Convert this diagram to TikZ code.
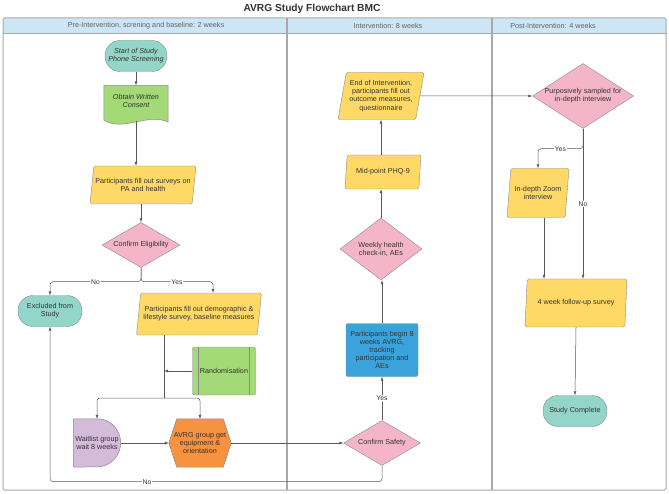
\documentclass[tikz,border=0pt]{standalone}
\usepackage{fontspec}
\setmainfont{Liberation Sans}
\usetikzlibrary{shapes.geometric, arrows.meta, positioning, calc, backgrounds}
\definecolor{flowteal}{HTML}{93D5C9}
\definecolor{flowgreen}{HTML}{A3D977}
\definecolor{flowyellow}{HTML}{FFD966}
\definecolor{flowpink}{HTML}{F4B5C9}
\definecolor{flowpurple}{HTML}{D4BBD9}
\definecolor{floworange}{HTML}{F79240}
\definecolor{flowblue}{HTML}{3AA3DC}
\definecolor{lanehead}{HTML}{CCE6F6}
\definecolor{laneline}{HTML}{A8A8A8}
\definecolor{edgegrey}{HTML}{8A8A8A}
\definecolor{textgrey}{HTML}{333333}
\newcommand{\nodefont}{\fontsize{7.2}{8.2}\selectfont}
\tikzset{
    terminal/.style={rectangle, rounded corners=15pt, minimum width=64pt, minimum height=31pt, text centered, align=center, draw=edgegrey, fill=flowteal, font=\nodefont, text=textgrey},
    datain/.style={trapezium, trapezium left angle=76, trapezium right angle=104, trapezium stretches body, rounded corners=1.5pt, inner xsep=0pt, inner ysep=1pt, align=center, draw=edgegrey, fill=flowyellow, font=\nodefont, text=textgrey},
    decision/.style={diamond, aspect=1.55, inner sep=-3pt, align=center, draw=edgegrey, fill=flowpink, font=\nodefont, text=textgrey},
    process/.style={rectangle, rounded corners=2pt, align=center, draw=edgegrey, font=\nodefont, text=textgrey},
    predef/.style={process, fill=flowgreen, path picture={
        \draw[edgegrey] ([xshift=6pt]path picture bounding box.north west) -- ([xshift=6pt]path picture bounding box.south west);
        \draw[edgegrey] ([xshift=-6pt]path picture bounding box.north east) -- ([xshift=-6pt]path picture bounding box.south east);}},
    textonly/.style={align=center, font=\nodefont, text=textgrey},
    lanetitle/.style={font=\fontsize{7.2}{8}\selectfont, text=black!62},
    shapeline/.style={draw=edgegrey, line width=0.5pt},
    arrow/.style={draw=black!65, line width=0.5pt, rounded corners=3pt, -{Latex[length=4pt,width=3pt]}},
    flowlabel/.style={fill=white, inner sep=0.8pt, font=\fontsize{6.8}{7}\selectfont, text=textgrey}
}

\begin{document}
\begin{tikzpicture}[x=1pt, y=1pt]
        \useasboundingbox (0,0) rectangle (669,-494);
        % Title
        \node (title) at (312,-8.5) [font=\fontsize{10.2}{12}\selectfont\bfseries, text=textgrey] {AVRG Study Flowchart BMC};

        % Swimlanes
        \fill[lanehead] (3,-18) rectangle (666,-33);
        \draw[laneline, line width=1pt, rounded corners=1.5pt] (3,-18) rectangle (666,-490);
        \draw[laneline, line width=0.8pt] (3,-33) -- (666,-33);
        \draw[laneline, line width=1.6pt] (287,-18) -- (287,-490);
        \draw[laneline, line width=1.6pt] (492,-18) -- (492,-490);
        \node (lane1) [lanetitle] at (146,-25.5) {Pre-Intervention, screning and baseline: 2 weeks};
        \node (lane2) [lanetitle] at (388,-25.5) {Intervention: 8 weeks};
        \node (lane3) [lanetitle] at (553,-25.5) {Post-Intervention: 4 weeks};

        % Pre-intervention
        \node (start) [terminal, minimum width=60pt, font=\nodefont\itshape] at (136,-56) {Start of Study\\Phone Screening};
        \node (consent) [textonly, minimum width=64pt, minimum height=31pt, font=\nodefont\itshape] at (136,-101) {Obtain Written\\Consent};
        \node (surveys) [datain, minimum width=106pt, minimum height=38pt] at (143,-185) {Participants fill out surveys on\\PA and health};
        \node (elig) [decision, minimum width=78pt, minimum height=45pt] at (141,-245) {Confirm Eligibility};
        \node (excluded) [terminal] at (50,-311) {Excluded from\\Study};
        \node (demog) [datain, minimum width=125pt, minimum height=42pt] at (199,-314) {Participants fill out demographic \&\\lifestyle survey, baseline measures};
        \node (random) [predef, minimum width=63pt, minimum height=48pt] at (224,-371) {Randomisation};
        \node (waitlist) [textonly, minimum width=47pt, minimum height=48pt, inner sep=0pt] at (97,-443) {Waitlist group\\wait 8 weeks};
        \node (avrg) [textonly, minimum width=62pt, minimum height=48pt, inner sep=0pt] at (200,-443) {AVRG group get\\equipment \&\\orientation};
        \coordinate (split) at (164,-398);

        % Intervention
        \node (safety) [decision, minimum width=77pt, minimum height=45pt] at (382,-443) {Confirm Safety};
        \node (begin) [process, fill=flowblue, minimum width=72pt, minimum height=53pt, inner sep=1pt] at (382,-350) {Participants begin 8\\weeks AVRG,\\tracking\\participation and\\AEs};
        \node (weekly) [decision, minimum width=82pt, minimum height=62pt] at (381,-249) {Weekly health\\check-in, AEs};
        \node (midpoint) [datain, minimum width=76pt, minimum height=34pt] at (383,-172) {Mid-point PHQ-9};
        \node (endint) [datain, minimum width=86pt, minimum height=47pt] at (381,-96) {End of Intervention,\\participants fill out\\outcome measures,\\questionnaire};

        % Post-intervention
        \node (purpose) [decision, minimum width=101pt, minimum height=65pt] at (583,-96) {Purposively sampled for\\in-depth interview};
        \node (indepth) [datain, minimum width=62pt, minimum height=49pt] at (538,-193) {In-depth Zoom\\interview};
        \node (followup) [datain, minimum width=102pt, minimum height=48pt] at (576,-303) {4 week follow-up survey};
        \node (complete) [terminal] at (575,-411) {Study Complete};

        % Custom shapes
        \begin{scope}[on background layer]
            \draw[shapeline, fill=flowgreen] (consent.north west) -- (consent.north east) -- ([yshift=-5.5pt]consent.south east)
                .. controls +(-20pt,10pt) and +(20pt,-12pt) .. ([yshift=-3.5pt]consent.south west) -- cycle; % wavy bottom
            \draw[shapeline, fill=flowpurple, rounded corners=1pt] (waitlist.south west) -- (waitlist.north west) -- ([xshift=-24pt]waitlist.north east)
                arc[start angle=90, end angle=-90, radius=24pt] -- cycle;
            \draw[shapeline, fill=floworange] (avrg.west) -- ([xshift=8pt]avrg.north west) -- ([xshift=-8pt]avrg.north east) -- (avrg.east)
                -- ([xshift=-8pt]avrg.south east) -- ([xshift=8pt]avrg.south west) -- cycle;
        \end{scope}

        % Connections
        \draw[arrow] (start) -- (consent);
        \draw[arrow] ([yshift=-4.5pt]consent.south) -- (consent.south |- surveys.north);
        \draw[arrow] (surveys.south -| elig) -- (elig.north);
        \draw[arrow] (elig.south) -- ++(0,-14) -| node[flowlabel, pos=0.25] {No} (excluded.north);
        \draw[arrow] (elig.south) -- ++(0,-14) -| node[flowlabel, pos=0.25] {Yes} ([xshift=14pt]demog.north);
        \draw[line width=0.5pt, draw=black!65] (demog.south -| split) -- (split);
        \draw[arrow] (split) -| (waitlist.north);
        \draw[arrow] (split) -| (avrg.north);
        \draw[arrow] (random.west) -- (random.west -| split);
        \draw[arrow] (waitlist.east) -- (avrg.west);
        \draw[arrow] (avrg.east) -- (safety.west);
        \draw[arrow] (safety.south) -- ++(0,-16) -| node[flowlabel, pos=0.354] {No} (excluded.south);
        \draw[arrow] (safety.north) -- node[flowlabel] {Yes} (begin.south);
        \draw[arrow] (begin.north) -- (begin.north |- weekly.south);
        \draw[arrow] (weekly.north) -- (weekly.north |- midpoint.south);
        \draw[arrow] (midpoint.north -| weekly) -- (endint.south -| weekly);
        \draw[arrow] (endint.east) -- (purpose.west);
        \draw[arrow] (purpose.south) -- ++(0,-20) -| node[flowlabel, pos=0.25] {Yes} (indepth.north);
        \draw[arrow] (purpose.south) -- node[flowlabel] {No} (purpose.south |- followup.north);
        \draw[arrow] ([xshift=6pt]indepth.south) -- ([xshift=6pt]indepth.south |- followup.north);
        \draw[arrow] (followup.south) -- (complete.north);
    \end{tikzpicture}
\end{document}
